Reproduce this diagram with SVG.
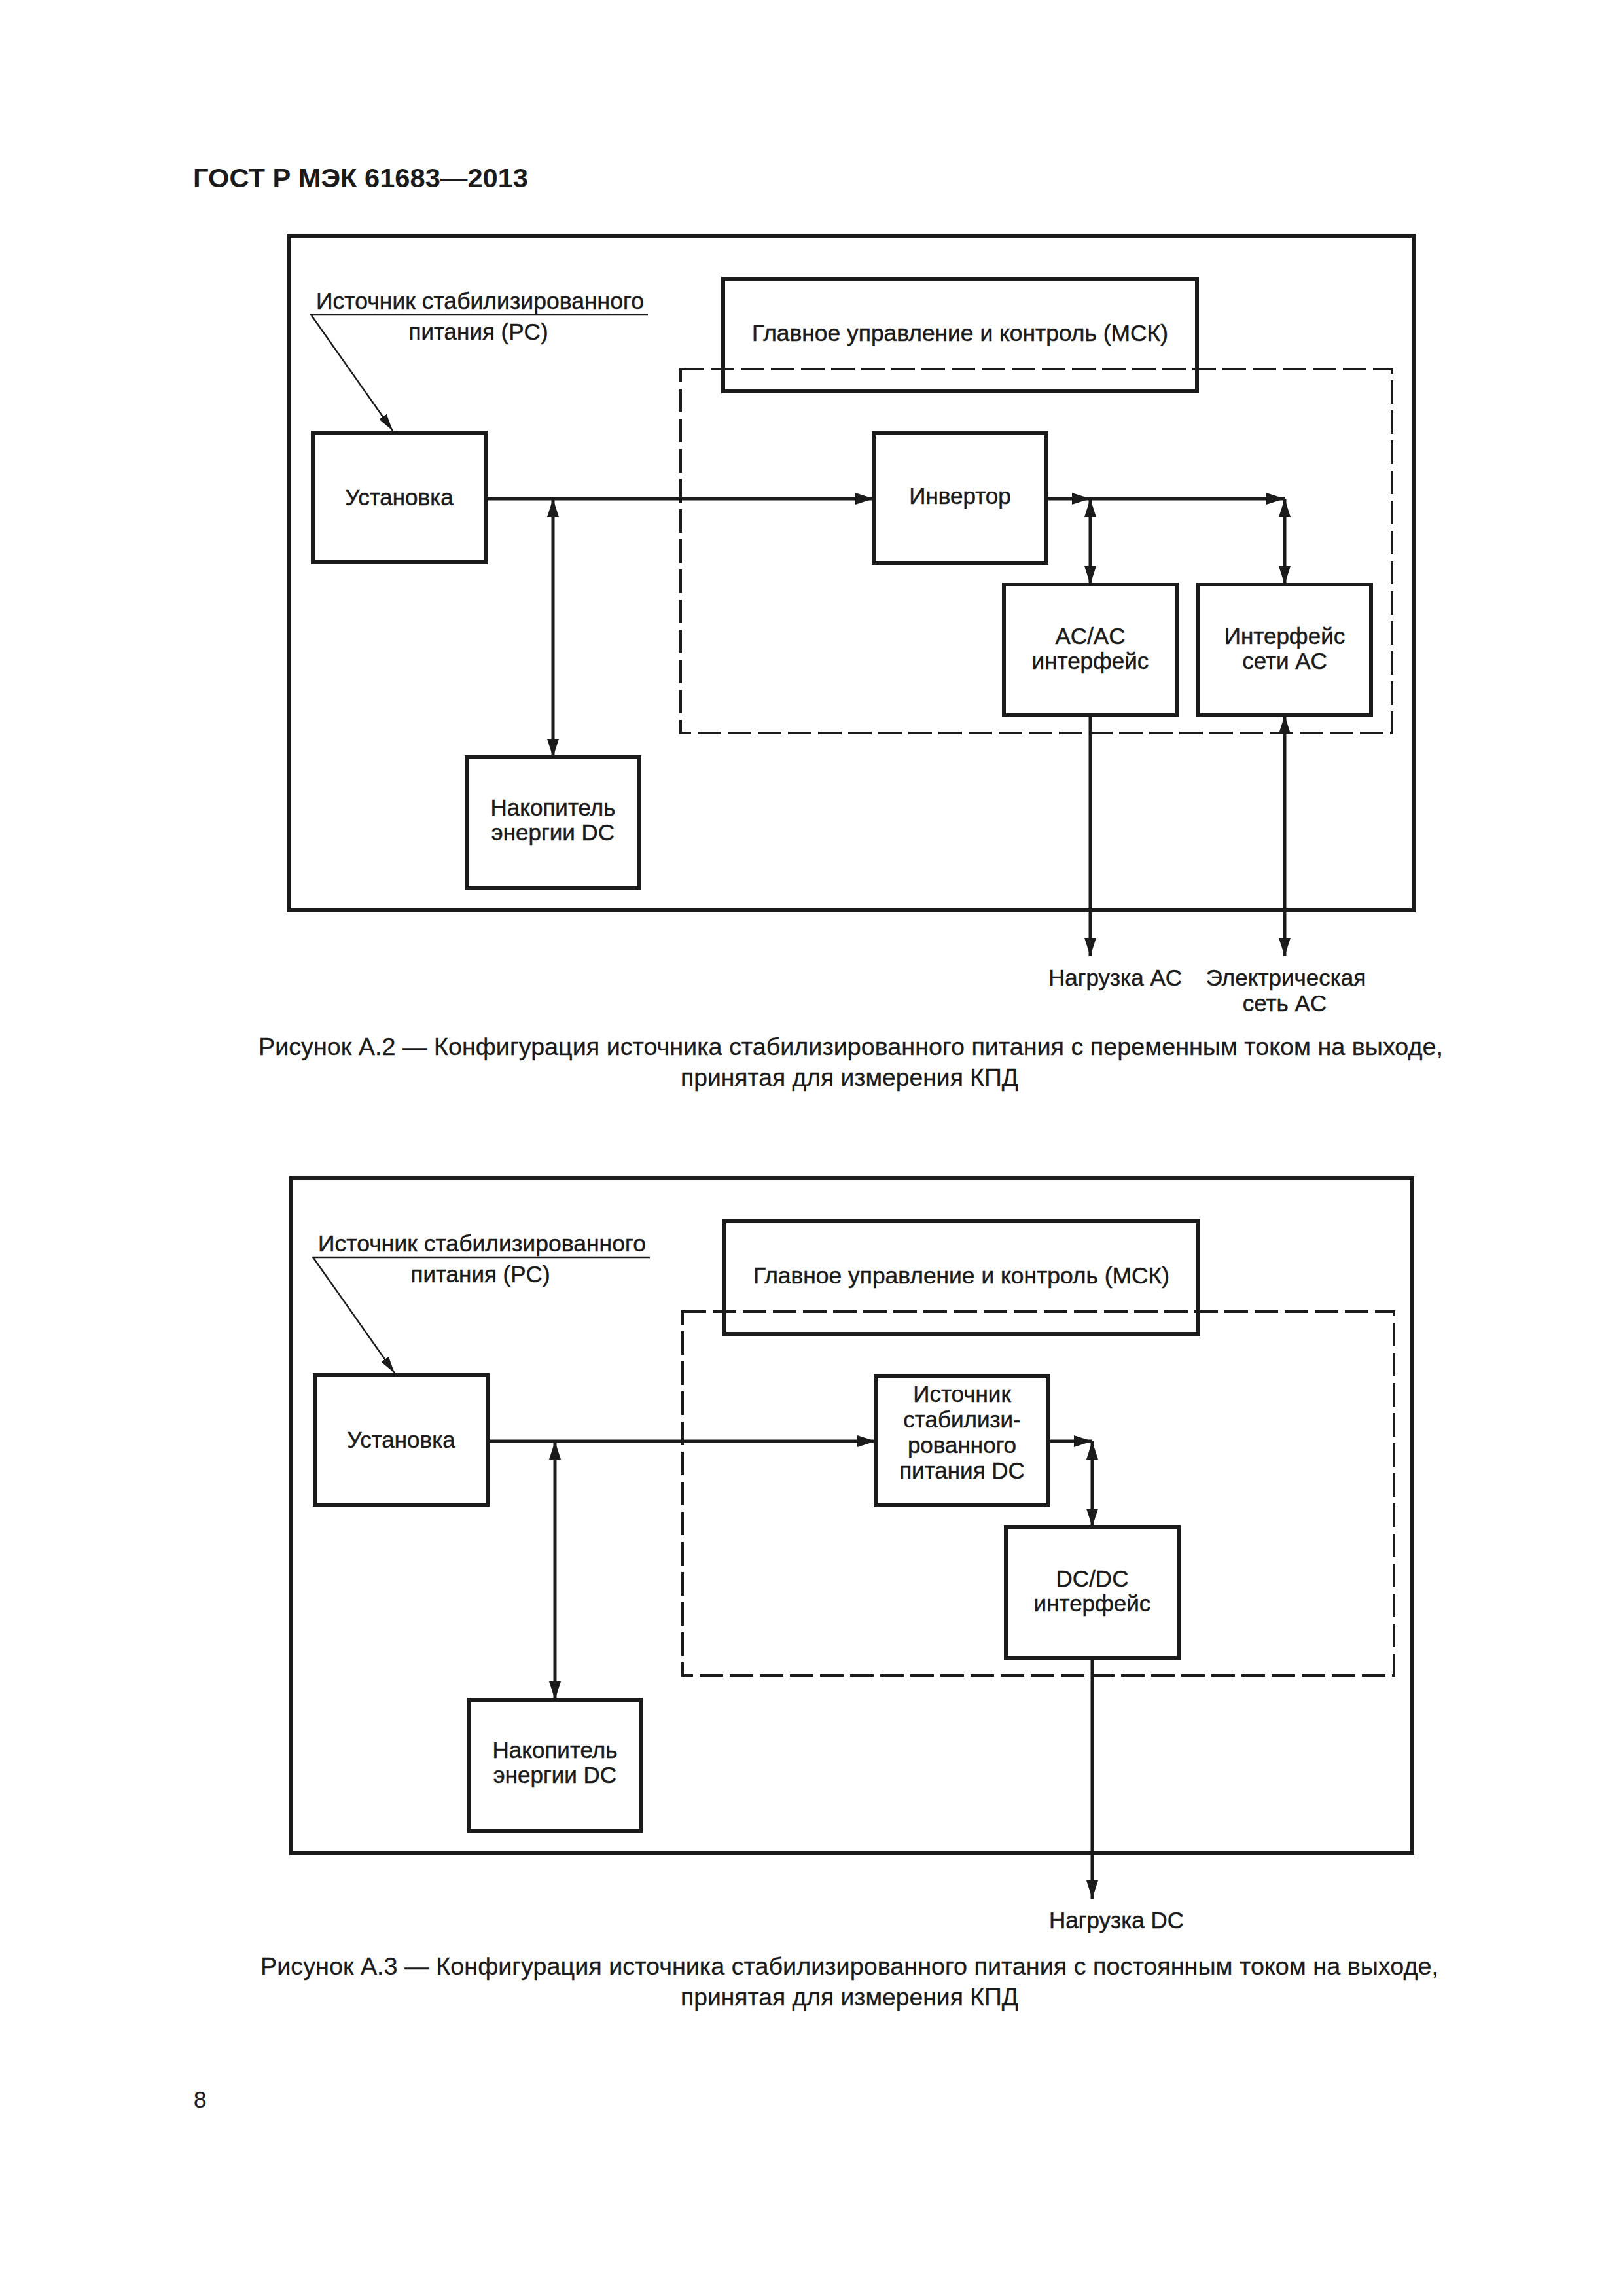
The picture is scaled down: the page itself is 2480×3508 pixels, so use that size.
<svg xmlns="http://www.w3.org/2000/svg" width="2480" height="3508" viewBox="0 0 2480 3508">
<defs>
<style>
.bg{fill:#ffffff}
.frame{fill:none;stroke:#1b1b1b;stroke-width:6}
.box{fill:none;stroke:#1b1b1b;stroke-width:6}
.dash{fill:none;stroke:#1b1b1b;stroke-width:4;stroke-dasharray:36 10}
.ln{fill:none;stroke:#1b1b1b;stroke-width:5}
.thin{fill:none;stroke:#1b1b1b;stroke-width:2.5}
.t{font-family:"Liberation Sans",Arial,sans-serif;font-size:35px;fill:#1b1b1b;stroke:#1b1b1b;stroke-width:0.5;text-anchor:middle}
.tl{font-family:"Liberation Sans",Arial,sans-serif;font-size:35px;fill:#1b1b1b;stroke:#1b1b1b;stroke-width:0.5}
.cap{font-family:"Liberation Sans",Arial,sans-serif;font-size:36px;fill:#1b1b1b;stroke:#1b1b1b;stroke-width:0.3}
.title{font-family:"Liberation Sans",Arial,sans-serif;font-size:41px;font-weight:bold;fill:#1b1b1b}
</style>
<marker id="ah" markerUnits="userSpaceOnUse" markerWidth="28" markerHeight="18" viewBox="0 0 28 18" refX="28" refY="9" orient="auto-start-reverse">
<path d="M0,0 L28,9 L0,18 z" fill="#1b1b1b"/>
</marker>
<marker id="ahs" markerUnits="userSpaceOnUse" markerWidth="26" markerHeight="14" viewBox="0 0 26 14" refX="26" refY="7" orient="auto">
<path d="M0,0 L26,7 L0,14 z" fill="#1b1b1b"/>
</marker>
</defs>
<rect class="bg" x="0" y="0" width="2480" height="3508"/>

<text class="title" x="295" y="286" textLength="512" lengthAdjust="spacingAndGlyphs">ГОСТ Р МЭК 61683—2013</text>

<!-- ============ Figure A.2 ============ -->
<g id="fig1">
<rect id="fig1-frame" class="frame" x="441" y="360" width="1719" height="1031"/>
<g id="fig1-system">
<rect class="dash" x="1040" y="564" width="1087" height="556"/>
</g>
<g id="fig1-mck">
<rect class="box" x="1105" y="426" width="724" height="172"/>
<text class="t" x="1467" y="521" textLength="636" lengthAdjust="spacingAndGlyphs">Главное управление и контроль (МСК)</text>
</g>
<g id="fig1-pc-label">
<text class="tl" x="483" y="472" textLength="501" lengthAdjust="spacingAndGlyphs">Источник стабилизированного</text>
<text class="t" x="731" y="519">питания (PC)</text>
</g>
<g id="fig1-ustanovka">
<rect class="box" x="478" y="661" width="264" height="198"/>
<text class="t" x="610" y="772">Установка</text>
</g>
<g id="fig1-invertor">
<rect class="box" x="1335" y="662" width="264" height="198"/>
<text class="t" x="1467" y="770">Инвертор</text>
</g>
<g id="fig1-acac">
<rect class="box" x="1534" y="893" width="264" height="200"/>
<text class="t" x="1666" y="984">AC/AC</text>
<text class="t" x="1666" y="1022">интерфейс</text>
</g>
<g id="fig1-grid-if">
<rect class="box" x="1831" y="893" width="264" height="200"/>
<text class="t" x="1963" y="984">Интерфейс</text>
<text class="t" x="1963" y="1022">сети AC</text>
</g>
<g id="fig1-storage">
<rect class="box" x="713" y="1157" width="264" height="200"/>
<text class="t" x="845" y="1246">Накопитель</text>
<text class="t" x="845" y="1284">энергии DC</text>
</g>
<g id="fig1-load">
<text class="t" x="1704" y="1506">Нагрузка AC</text>
</g>
<g id="fig1-grid">
<text class="t" x="1965" y="1506">Электрическая</text>
<text class="t" x="1963" y="1545">сеть AC</text>
</g>
<g id="fig1-connectors">
<line class="thin" x1="474" y1="481" x2="990" y2="481"/>
<line class="thin" x1="476" y1="482" x2="600" y2="658" marker-end="url(#ahs)"/>
<line class="ln" x1="742" y1="762" x2="1335" y2="762" marker-end="url(#ah)"/>
<line class="ln" x1="845" y1="762" x2="845" y2="1157" marker-start="url(#ah)" marker-end="url(#ah)"/>
<line class="ln" x1="1599" y1="762" x2="1666" y2="762" marker-end="url(#ah)"/>
<line class="ln" x1="1666" y1="762" x2="1963" y2="762" marker-end="url(#ah)"/>
<line class="ln" x1="1666" y1="762" x2="1666" y2="893" marker-start="url(#ah)" marker-end="url(#ah)"/>
<line class="ln" x1="1963" y1="762" x2="1963" y2="893" marker-start="url(#ah)" marker-end="url(#ah)"/>
<line class="ln" x1="1666" y1="1093" x2="1666" y2="1461" marker-end="url(#ah)"/>
<line class="ln" x1="1963" y1="1093" x2="1963" y2="1461" marker-start="url(#ah)" marker-end="url(#ah)"/>
</g>
</g>
<text class="cap" x="395" y="1612" textLength="1810" lengthAdjust="spacingAndGlyphs">Рисунок  А.2 — Конфигурация источника стабилизированного питания с переменным током на выходе,</text>
<text class="cap" x="1040" y="1659" textLength="516" lengthAdjust="spacingAndGlyphs">принятая для измерения КПД</text>

<!-- ============ Figure A.3 ============ -->
<g id="fig2">
<rect id="fig2-frame" class="frame" x="445" y="1800" width="1713" height="1031"/>
<g id="fig2-system">
<rect class="dash" x="1043" y="2004" width="1087" height="556"/>
</g>
<g id="fig2-mck">
<rect class="box" x="1107" y="1866" width="724" height="172"/>
<text class="t" x="1469" y="1961" textLength="636" lengthAdjust="spacingAndGlyphs">Главное управление и контроль (МСК)</text>
</g>
<g id="fig2-pc-label">
<text class="tl" x="486" y="1912" textLength="501" lengthAdjust="spacingAndGlyphs">Источник стабилизированного</text>
<text class="t" x="734" y="1959">питания (PC)</text>
</g>
<g id="fig2-ustanovka">
<rect class="box" x="481" y="2101" width="264" height="198"/>
<text class="t" x="613" y="2212">Установка</text>
</g>
<g id="fig2-dcsource">
<rect class="box" x="1338" y="2102" width="264" height="198"/>
<text class="t" x="1470" y="2142">Источник</text>
<text class="t" x="1470" y="2181">стабилизи-</text>
<text class="t" x="1470" y="2220">рованного</text>
<text class="t" x="1470" y="2259">питания DC</text>
</g>
<g id="fig2-dcdc">
<rect class="box" x="1537" y="2333" width="264" height="200"/>
<text class="t" x="1669" y="2424">DC/DC</text>
<text class="t" x="1669" y="2462">интерфейс</text>
</g>
<g id="fig2-storage">
<rect class="box" x="716" y="2597" width="264" height="200"/>
<text class="t" x="848" y="2686">Накопитель</text>
<text class="t" x="848" y="2724">энергии DC</text>
</g>
<g id="fig2-load">
<text class="t" x="1706" y="2946">Нагрузка DC</text>
</g>
<g id="fig2-connectors">
<line class="thin" x1="477" y1="1921" x2="993" y2="1921"/>
<line class="thin" x1="479" y1="1922" x2="603" y2="2098" marker-end="url(#ahs)"/>
<line class="ln" x1="745" y1="2202" x2="1338" y2="2202" marker-end="url(#ah)"/>
<line class="ln" x1="848" y1="2202" x2="848" y2="2597" marker-start="url(#ah)" marker-end="url(#ah)"/>
<line class="ln" x1="1602" y1="2202" x2="1669" y2="2202" marker-end="url(#ah)"/>
<line class="ln" x1="1669" y1="2202" x2="1669" y2="2333" marker-start="url(#ah)" marker-end="url(#ah)"/>
<line class="ln" x1="1669" y1="2533" x2="1669" y2="2901" marker-end="url(#ah)"/>
</g>
</g>
<text class="cap" x="398" y="3017" textLength="1800" lengthAdjust="spacingAndGlyphs">Рисунок  А.3 — Конфигурация источника стабилизированного питания с постоянным током на выходе,</text>
<text class="cap" x="1040" y="3064" textLength="516" lengthAdjust="spacingAndGlyphs">принятая для измерения КПД</text>

<text class="cap" x="296" y="3220" style="font-size:35px">8</text>
</svg>
